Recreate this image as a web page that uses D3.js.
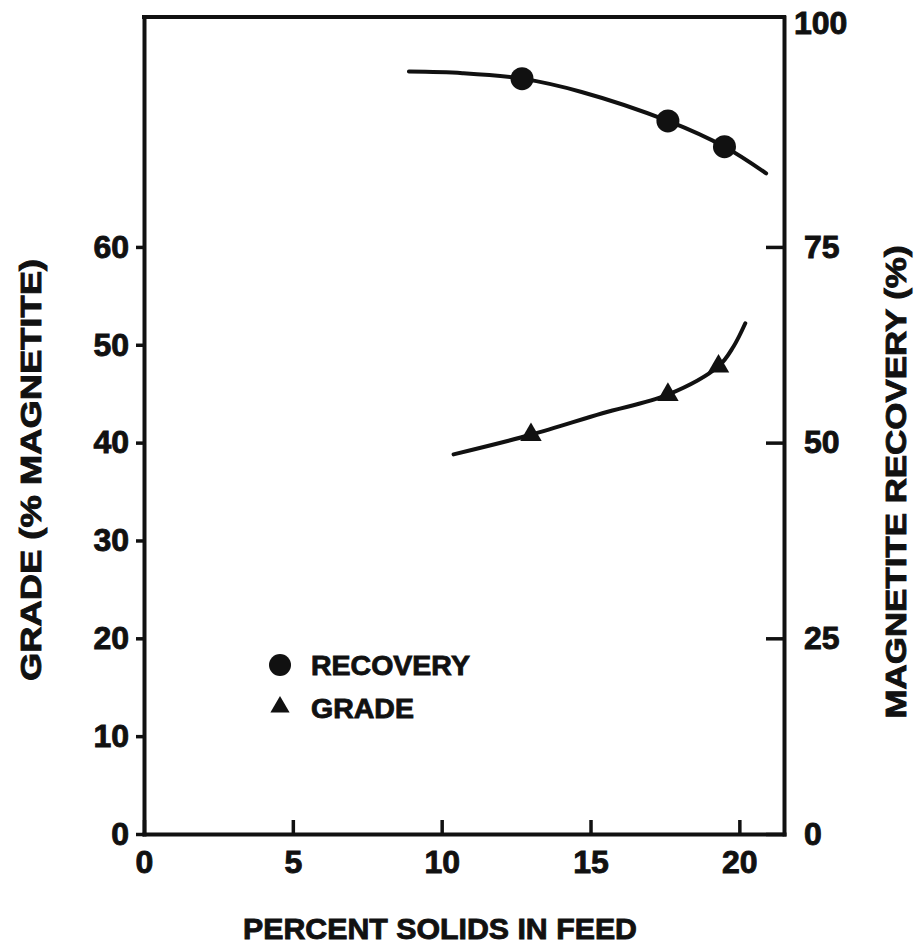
<!DOCTYPE html>
<html>
<head>
<meta charset="utf-8">
<script src="https://cdn.jsdelivr.net/npm/d3@7"></script>
<style>
  html, body { margin: 0; padding: 0; background: #fff; }
  svg { display: block; }
  text { font-family: "Liberation Sans", Arial, Helvetica, sans-serif; font-weight: bold; fill: #111; stroke: #111; stroke-width: 0.9px; }
</style>
</head>
<body>
<svg id="chart" width="915" height="949"></svg>
<script>
// Percent solids in feed (x) for the measured points
const recoveryX = [12.7, 17.6, 19.5];
const recoveryY = [96.5, 91.1, 87.8];   // magnetite recovery, %
const gradeX = [13.0, 17.6, 19.3];
const gradeY = [40.8, 44.9, 47.8];      // grade, % magnetite

// Hand-drawn trend curves through the points
const recoveryCurveX = [8.9, 10.7, 12.7, 14.7, 17.6, 19.5, 20.9];
const recoveryCurveY = [97.4, 97.2, 96.5, 94.8, 91.1, 87.8, 84.4];
const gradeCurveX = [10.4, 13.0, 15.4, 17.6, 19.3, 19.8, 20.2];
const gradeCurveY = [38.8, 40.8, 43.0, 44.9, 47.8, 49.8, 52.2];

// Axis ticks
const xTicks = [0, 5, 10, 15, 20];
const gradeTicks = [0, 10, 20, 30, 40, 50, 60];
const recoveryTicks = [0, 25, 50, 75];
const recoveryTopLabel = "100";

const xMax = 21.5;
const gradeMax = 83.5;
const recoveryMax = gradeMax * 1.25;   // 25 % recovery per 20 % grade

const plotLeft = 144, plotRight = 784, plotTop = 17, plotBottom = 834;
const ink = "#111";

const svg = d3.select("#chart");

const x = d3.scaleLinear().domain([0, xMax]).range([plotLeft, plotRight]);
const yGrade = d3.scaleLinear().domain([0, gradeMax]).range([plotBottom, plotTop]);
const yRec = d3.scaleLinear().domain([0, recoveryMax]).range([plotBottom, plotTop]);

function styleAxis(g) {
  g.select(".domain").attr("stroke", ink).attr("stroke-width", 4).attr("stroke-linecap", "square");
  g.selectAll(".tick line").attr("stroke", ink).attr("stroke-width", 3.5);
  g.selectAll(".tick text").attr("fill", ink).attr("font-size", 32)
    .attr("font-family", "Liberation Sans, Arial, sans-serif").attr("font-weight", "bold");
}

// Bottom axis: ticks point into the plot
svg.append("g")
  .attr("transform", `translate(0,${plotBottom})`)
  .call(d3.axisBottom(x).tickValues(xTicks).tickFormat(d3.format("d"))
    .tickSizeInner(-14).tickSizeOuter(0).tickPadding(16))
  .call(styleAxis);

// Left axis: grade
svg.append("g")
  .attr("transform", `translate(${plotLeft},0)`)
  .call(d3.axisLeft(yGrade).tickValues(gradeTicks).tickFormat(d3.format("d"))
    .tickSizeInner(8).tickSizeOuter(0).tickPadding(7))
  .call(styleAxis);

// Right axis: recovery, ticks point into the plot
svg.append("g")
  .attr("transform", `translate(${plotRight},0)`)
  .call(d3.axisRight(yRec).tickValues(recoveryTicks).tickFormat(d3.format("d"))
    .tickSizeInner(-18).tickSizeOuter(0).tickPadding(20))
  .call(styleAxis);

// Top edge of the frame
svg.append("line")
  .attr("x1", plotLeft).attr("x2", plotRight).attr("y1", plotTop).attr("y2", plotTop)
  .attr("stroke", ink).attr("stroke-width", 4).attr("stroke-linecap", "square");

// Label at the top end of the recovery axis
svg.append("text")
  .attr("x", plotRight + 10).attr("y", plotTop + 5)
  .attr("dy", "0.36em")
  .attr("font-size", 32)
  .text(recoveryTopLabel);

// Curves
const recLine = d3.line()
  .x((d, i) => x(recoveryCurveX[i]))
  .y(d => yRec(d))
  .curve(d3.curveCatmullRom.alpha(0.5));
const gradeLine = d3.line()
  .x((d, i) => x(gradeCurveX[i]))
  .y(d => yGrade(d))
  .curve(d3.curveCatmullRom.alpha(0.5));

svg.append("path").attr("d", recLine(recoveryCurveY))
  .attr("fill", "none").attr("stroke", ink).attr("stroke-width", 4).attr("stroke-linecap", "round");
svg.append("path").attr("d", gradeLine(gradeCurveY))
  .attr("fill", "none").attr("stroke", ink).attr("stroke-width", 4).attr("stroke-linecap", "round");

// Recovery points
svg.append("g").selectAll("circle")
  .data(recoveryY)
  .join("circle")
  .attr("cx", (d, i) => x(recoveryX[i]))
  .attr("cy", d => yRec(d))
  .attr("r", 11.5)
  .attr("fill", ink);

// Grade points
const tri = d3.symbol().type(d3.symbolTriangle).size(200);
svg.append("g").selectAll("path")
  .data(gradeY)
  .join("path")
  .attr("d", tri)
  .attr("transform", (d, i) => `translate(${x(gradeX[i])},${yGrade(d)})`)
  .attr("fill", ink);

// Legend
const legend = svg.append("g");
legend.append("circle").attr("cx", 280).attr("cy", 665).attr("r", 11).attr("fill", ink);
legend.append("text").attr("x", 311).attr("y", 665).attr("dy", "0.36em")
  .attr("font-size", 28.5).text("RECOVERY");
legend.append("path").attr("d", d3.symbol().type(d3.symbolTriangle).size(160))
  .attr("transform", "translate(280,707)").attr("fill", ink);
legend.append("text").attr("x", 311).attr("y", 708).attr("dy", "0.36em")
  .attr("font-size", 28.5).text("GRADE");

// Axis titles
svg.append("text")
  .attr("x", 440).attr("y", 928).attr("dy", "0.36em")
  .attr("text-anchor", "middle").attr("font-size", 30)
  .attr("textLength", 394).attr("lengthAdjust", "spacingAndGlyphs")
  .text("PERCENT SOLIDS IN FEED");

svg.append("text")
  .attr("transform", "translate(30,470) rotate(-90)")
  .attr("dy", "0.36em")
  .attr("text-anchor", "middle").attr("font-size", 30)
  .attr("textLength", 422).attr("lengthAdjust", "spacingAndGlyphs")
  .text("GRADE (% MAGNETITE)");

svg.append("text")
  .attr("transform", "translate(895,482) rotate(-90)")
  .attr("dy", "0.36em")
  .attr("text-anchor", "middle").attr("font-size", 30)
  .attr("textLength", 473).attr("lengthAdjust", "spacingAndGlyphs")
  .text("MAGNETITE RECOVERY (%)");
</script>
</body>
</html>
